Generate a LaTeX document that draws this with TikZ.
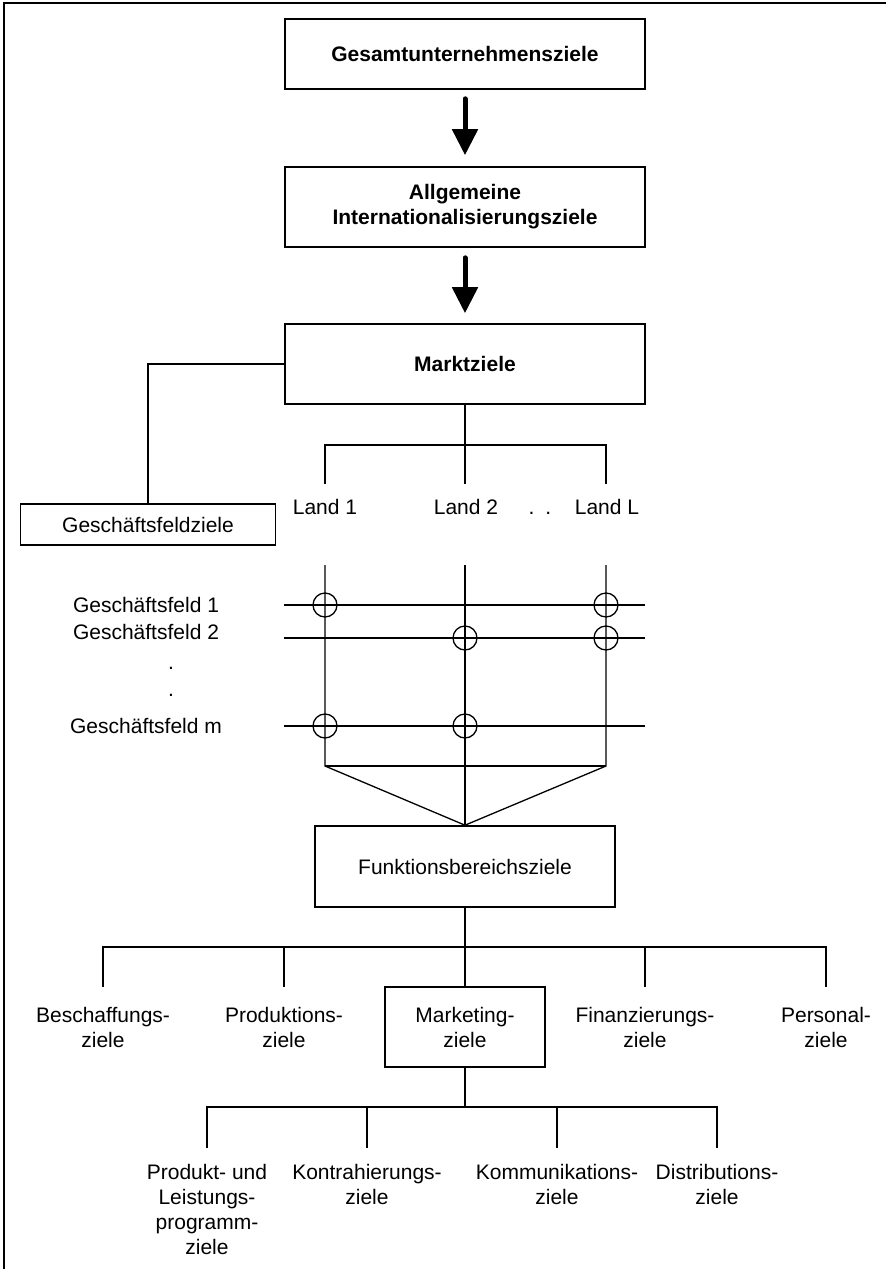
\documentclass[tikz,border=0pt]{standalone}
\usepackage{fontspec}
\setmainfont{Liberation Sans}
\usetikzlibrary{arrows.meta}
\begin{document}
\begin{tikzpicture}[x=1pt,y=-1pt,
  txt/.style={font=\fontsize{21}{25}\selectfont, align=center, inner sep=0pt},
  boldtxt/.style={font=\fontsize{21}{25}\selectfont\bfseries, align=center, inner sep=0pt},
  framed/.style={draw, line width=1.6pt},
  ln/.style={line width=1.3pt},
  bigarrow/.style={line width=5pt, line cap=round, -{Triangle[length=26pt,width=25pt]}},
  ring/.style={circle, draw, line width=1.3pt, minimum size=24pt, inner sep=0pt}
]
\path[use as bounding box] (0,0) rectangle (886,1269);
\clip (0,0) rectangle (886,1269);
% outer frame
\draw[line width=2pt] (4,3) rectangle (900,1290);

% top chain
\node[boldtxt, framed, minimum width=360pt, minimum height=70pt] (gu) at (465,54) {Gesamtunternehmensziele};
\node[boldtxt, framed, minimum width=360pt, minimum height=80pt] (ai) at (465,207) {Allgemeine\\Internationalisierungsziele};
\node[boldtxt, framed, minimum width=360pt, minimum height=80pt] (mz) at (465,364) {Marktziele};
\draw[bigarrow, shorten <=9pt, shorten >=11pt] (gu) -- (ai);
\draw[bigarrow, shorten <=10pt, shorten >=10pt] (ai) -- (mz);

% business field goals
\node[txt, framed, minimum width=255pt, minimum height=41pt] (gfz) at (148,524.5) {Geschäftsfeldziele};
\draw[ln] (mz.west) -| (gfz.north);

% countries
\node[txt, anchor=base] (l1) at (325,514.5) {Land 1};
\node[txt, anchor=base] (l2) at (466,514.5) {Land 2};
\node[txt, anchor=base] (ld) at (540,514.5) {.\hspace{11pt}.};
\node[txt, anchor=base] (lL) at (607,514.5) {Land L};
\coordinate (b1) at (325,445);
\coordinate (b3) at (606,445);
\coordinate (l1t) at (325,484);
\coordinate (l2t) at (465,484);
\coordinate (lLt) at (606,484);
\draw[ln] (l1t) -- (b1) -- (b3) -- (lLt);
\draw[ln] (mz.south) -- (l2t);

% matrix of countries and business fields
\node[txt, anchor=base] (gf1) at (146,612.5) {Geschäftsfeld 1};
\node[txt, anchor=base] (gf2) at (146,639) {Geschäftsfeld 2};
\node[txt, anchor=base] (dt1) at (171,669) {.};
\node[txt, anchor=base] (dt2) at (171,696) {.};
\node[txt, anchor=base] (gfm) at (146,733.5) {Geschäftsfeld m};

\node[txt, framed, minimum width=300pt, minimum height=81pt] (fbz) at (465,866.5) {Funktionsbereichsziele};

\coordinate (v1t) at (325,565);
\coordinate (v2t) at (465,565);
\coordinate (v3t) at (606,565);
\coordinate (v1b) at (325,766);
\coordinate (v3b) at (606,766);
\draw[ln] (v1t) -- (v1b) -- (fbz.north) -- (v3b) -- (v3t);
\draw[ln] (v1b) -- (v3b);
\draw[ln] (v2t) -- (fbz.north);

\coordinate (r1a) at (284,605);  \coordinate (r1b) at (645,605);
\coordinate (r2a) at (284,638);  \coordinate (r2b) at (645,638);
\coordinate (rma) at (284,726);  \coordinate (rmb) at (645,726);
\draw[ln] (r1a) -- (r1b);
\draw[ln] (r2a) -- (r2b);
\draw[ln] (rma) -- (rmb);

\node[ring] (c11) at (325,605) {};
\node[ring] (c13) at (606,605) {};
\node[ring] (c22) at (465,638) {};
\node[ring] (c23) at (606,638) {};
\node[ring] (cm1) at (325,726) {};
\node[ring] (cm2) at (465,726) {};

% functional areas
\node[txt] (bz) at (103,1027) {Beschaffungs-\\ziele};
\node[txt] (pz) at (284,1027) {Produktions-\\ziele};
\node[txt, framed, minimum width=160pt, minimum height=80pt] (mk) at (465,1027) {Marketing-\\ziele};
\node[txt] (fz) at (645,1027) {Finanzierungs-\\ziele};
\node[txt] (pe) at (826,1027) {Personal-\\ziele};

\coordinate (fb1) at (103,947);  \coordinate (fb5) at (826,947);
\coordinate (fb2) at (284,947);  \coordinate (fb4) at (645,947);
\coordinate (bzt) at (103,987);  \coordinate (pzt) at (284,987);
\coordinate (fzt) at (645,987);  \coordinate (pet) at (826,987);
\draw[ln] (bzt) -- (fb1) -- (fb5) -- (pet);
\draw[ln] (fbz.south) -- (mk.north);
\draw[ln] (fb2) -- (pzt);
\draw[ln] (fb4) -- (fzt);

% marketing sub-goals
\node[txt] (pl) at (207,1209) {Produkt- und\\Leistungs-\\programm-\\ziele};
\node[txt] (kh) at (367,1184.5) {Kontrahierungs-\\ziele};
\node[txt] (ko) at (557,1184.5) {Kommunikations-\\ziele};
\node[txt] (di) at (717,1184.5) {Distributions-\\ziele};

\coordinate (mb1) at (207,1107);  \coordinate (mb4) at (717,1107);
\coordinate (mb2) at (367,1107);  \coordinate (mb3) at (557,1107);
\coordinate (mbc) at (465,1107);
\coordinate (plt) at (207,1148);  \coordinate (kht) at (367,1148);
\coordinate (kot) at (557,1148);  \coordinate (dit) at (717,1148);
\draw[ln] (plt) -- (mb1) -- (mb4) -- (dit);
\draw[ln] (mk.south) -- (mbc);
\draw[ln] (mb2) -- (kht);
\draw[ln] (mb3) -- (kot);
\end{tikzpicture}
\end{document}
